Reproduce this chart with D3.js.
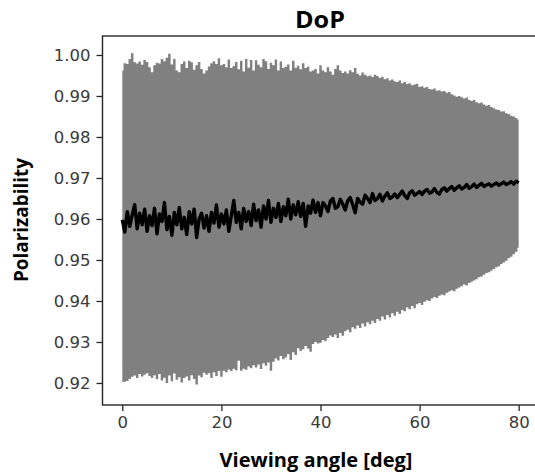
<!DOCTYPE html>
<html>
<head>
<meta charset="utf-8">
<script src="https://cdn.jsdelivr.net/npm/d3@7"></script>
<style>
  html, body { margin: 0; padding: 0; background: #fff; }
  svg { display: block; }
</style>
</head>
<body>
<svg id="chart" width="535" height="475"></svg>
<script>
// ---- data ----
const chartTitle = "DoP";
const xLabel = "Viewing angle [deg]";
const yLabel = "Polarizability";
const xTicks = [0, 20, 40, 60, 80];
const yTicks = [0.92, 0.93, 0.94, 0.95, 0.96, 0.97, 0.98, 0.99, 1.00];
// sampling grid of viewing angles, 0..80 deg every 0.5 deg
const angles = d3.range(0, 80.001, 0.5);

const upper = [
0.9962,0.9980,0.9978,0.9990,1.0004,0.9982,0.9979,0.9984,0.9976,0.9988,0.9983,
0.9970,0.9958,0.9975,0.9981,0.9979,0.9990,0.9985,0.9993,1.0003,0.9977,
0.9990,0.9962,0.9958,0.9978,0.9984,0.9968,0.9986,0.9982,0.9964,0.9975,
0.9983,0.9966,0.9955,0.9962,0.9972,0.9980,0.9985,0.9978,0.9992,0.9975,
0.9978,0.9970,0.9989,0.9968,0.9973,0.9983,0.9965,0.9986,0.9960,0.9990,
0.9969,0.9988,0.9962,0.9987,0.9976,0.9970,0.9990,0.9985,0.9966,0.9981,
0.9975,0.9989,0.9962,0.9984,0.9968,0.9971,0.9977,0.9962,0.9986,0.9969,
0.9974,0.9965,0.9980,0.9968,0.9972,0.9960,0.9962,0.9966,0.9955,0.9975,
0.9962,0.9958,0.9970,0.9960,0.9952,0.9966,0.9975,0.9962,0.9956,0.9960,
0.9955,0.9963,0.9958,0.9968,0.9954,0.9950,0.9957,0.9952,0.9948,0.9950,
0.9946,0.9952,0.9949,0.9944,0.9947,0.9941,0.9943,0.9938,0.9940,0.9936,
0.9934,0.9938,0.9931,0.9934,0.9929,0.9931,0.9926,0.9928,0.9930,0.9922,
0.9924,0.9920,0.9922,0.9917,0.9916,0.9918,0.9913,0.9914,0.9911,0.9912,
0.9908,0.9910,0.9904,0.9901,0.9898,0.9900,0.9897,0.9894,0.9896,0.9891,
0.9888,0.9890,0.9885,0.9882,0.9884,0.9879,0.9876,0.9878,0.9873,0.9870,
0.9867,0.9866,0.9862,0.9863,0.9858,0.9856,0.9852,0.9850,0.9846,0.9842
];

const lower = [
0.9202,0.9203,0.9205,0.9210,0.9215,0.9218,0.9212,0.9222,0.9216,0.9220,0.9224,
0.9217,0.9212,0.9219,0.9209,0.9222,0.9206,0.9213,0.9200,0.9218,0.9204,
0.9223,0.9208,0.9214,0.9201,0.9212,0.9216,0.9206,0.9219,0.9210,0.9196,
0.9218,0.9214,0.9225,0.9220,0.9224,0.9212,0.9226,0.9217,0.9229,0.9215,
0.9230,0.9226,0.9233,0.9229,0.9235,0.9231,0.9254,0.9230,0.9235,0.9232,
0.9240,0.9236,0.9243,0.9238,0.9245,0.9234,0.9248,0.9242,0.9250,0.9230,
0.9252,0.9260,0.9255,0.9266,0.9258,0.9262,0.9270,0.9256,0.9275,0.9268,
0.9285,0.9278,0.9282,0.9290,0.9284,0.9276,0.9295,0.9300,0.9296,0.9298,
0.9305,0.9302,0.9310,0.9316,0.9312,0.9318,0.9310,0.9322,0.9315,0.9326,
0.9330,0.9324,0.9336,0.9332,0.9340,0.9334,0.9345,0.9338,0.9348,0.9343,
0.9352,0.9346,0.9356,0.9352,0.9362,0.9355,0.9366,0.9360,0.9370,0.9364,
0.9374,0.9368,0.9378,0.9375,0.9384,0.9380,0.9388,0.9382,0.9392,0.9395,
0.9390,0.9398,0.9402,0.9400,0.9406,0.9410,0.9407,0.9413,0.9416,0.9414,
0.9420,0.9423,0.9426,0.9424,0.9430,0.9433,0.9436,0.9440,0.9438,0.9444,
0.9447,0.9450,0.9453,0.9458,0.9460,0.9464,0.9468,0.9470,0.9474,0.9478,
0.9482,0.9485,0.9490,0.9494,0.9498,0.9504,0.9508,0.9514,0.9520,0.9530
];

const meanVals = [
0.9598,0.9568,0.9618,0.9582,0.9610,0.9635,0.9576,0.9614,0.9586,0.9624,0.9570,
0.9608,0.9584,0.9626,0.9564,0.9612,0.9594,0.9640,0.9574,0.9606,0.9560,
0.9616,0.9586,0.9628,0.9576,0.9604,0.9562,0.9618,0.9588,0.9624,0.9555,
0.9600,0.9614,0.9578,0.9608,0.9570,0.9616,0.9590,0.9634,0.9580,0.9612,
0.9588,0.9622,0.9570,0.9608,0.9645,0.9592,0.9616,0.9576,0.9626,0.9594,
0.9618,0.9584,0.9636,0.9596,0.9622,0.9580,0.9632,0.9600,0.9645,0.9592,
0.9626,0.9604,0.9638,0.9594,0.9630,0.9608,0.9648,0.9600,0.9634,0.9610,
0.9642,0.9606,0.9638,0.9582,0.9632,0.9614,0.9646,0.9616,0.9640,0.9608,
0.9640,0.9632,0.9618,0.9644,0.9650,0.9626,0.9630,0.9648,0.9636,0.9622,
0.9645,0.9652,0.9635,0.9615,0.9650,0.9641,0.9636,0.9658,0.9650,0.9640,
0.9662,0.9645,0.9650,0.9660,0.9644,0.9656,0.9664,0.9650,0.9654,0.9661,
0.9652,0.9660,0.9668,0.9657,0.9650,0.9664,0.9669,0.9658,0.9662,0.9667,
0.9660,0.9668,0.9672,0.9663,0.9666,0.9674,0.9665,0.9661,0.9672,0.9676,
0.9668,0.9674,0.9679,0.9670,0.9676,0.9681,0.9673,0.9677,0.9684,0.9675,
0.9679,0.9685,0.9677,0.9682,0.9687,0.9679,0.9683,0.9686,0.9680,0.9684,
0.9688,0.9682,0.9686,0.9690,0.9684,0.9687,0.9691,0.9685,0.9692,0.9688
];

// ---- layout ----
const svg = d3.select("#chart");
const plot = { left: 102.5, right: 538.5, top: 36, bottom: 405 };

const x = d3.scaleLinear().domain([-4, 84]).range([plot.left, plot.right]);
const y = d3.scaleLinear().domain([0.91463, 1.00463]).range([plot.bottom, plot.top]);

const rows = angles.map((a, i) => ({ a, hi: upper[i], lo: lower[i], m: meanVals[i] }));

// band (spread)
svg.append("path")
  .datum(rows)
  .attr("fill", "#808080")
  .attr("d", d3.area()
    .x(d => x(d.a))
    .y0(d => y(d.lo))
    .y1(d => y(d.hi))
    .curve(d3.curveStep));

// mean line
svg.append("path")
  .datum(rows)
  .attr("fill", "none")
  .attr("stroke", "#000")
  .attr("stroke-width", 3.4)
  .attr("stroke-linejoin", "round")
  .attr("d", d3.line().x(d => x(d.a)).y(d => y(d.m)));

// axes
const axisColor = "#262626";
const xAxis = svg.append("g")
  .attr("transform", `translate(0,${plot.bottom})`)
  .call(d3.axisBottom(x).tickValues(xTicks).tickFormat(d3.format("d")).tickSize(6).tickPadding(5));
const yAxis = svg.append("g")
  .attr("transform", `translate(${plot.left},0)`)
  .call(d3.axisLeft(y).tickValues(yTicks).tickFormat(d3.format(".2f")).tickSize(6).tickPadding(6));

[xAxis, yAxis].forEach(g => {
  g.select(".domain").remove();
  g.selectAll(".tick line").attr("stroke", axisColor).attr("stroke-width", 1.3);
  g.selectAll(".tick text")
    .attr("fill", "#3a3a3a")
    .style("font-family", "'DejaVu Sans', sans-serif")
    .style("font-size", "16.5px");
});

// frame
svg.append("rect")
  .attr("x", plot.left).attr("y", plot.top)
  .attr("width", plot.right - plot.left).attr("height", plot.bottom - plot.top)
  .attr("fill", "none").attr("stroke", axisColor).attr("stroke-width", 1.4);

// title and labels
svg.append("text")
  .attr("x", 320).attr("y", 28)
  .attr("text-anchor", "middle")
  .attr("textLength", 50)
  .attr("lengthAdjust", "spacingAndGlyphs")
  .style("font-family", "'Open Sans', sans-serif")
  .style("font-weight", "bold")
  .style("font-size", "24px")
  .text(chartTitle);

svg.append("text")
  .attr("x", 316).attr("y", 467)
  .attr("text-anchor", "middle")
  .attr("textLength", 193)
  .attr("lengthAdjust", "spacingAndGlyphs")
  .style("font-family", "'Open Sans', sans-serif")
  .style("font-weight", "bold")
  .style("font-size", "20px")
  .text(xLabel);

svg.append("text")
  .attr("transform", "translate(28,220) rotate(-90)")
  .attr("text-anchor", "middle")
  .attr("textLength", 124)
  .attr("lengthAdjust", "spacingAndGlyphs")
  .style("font-family", "'Open Sans', sans-serif")
  .style("font-weight", "bold")
  .style("font-size", "20px")
  .text(yLabel);
</script>
</body>
</html>
